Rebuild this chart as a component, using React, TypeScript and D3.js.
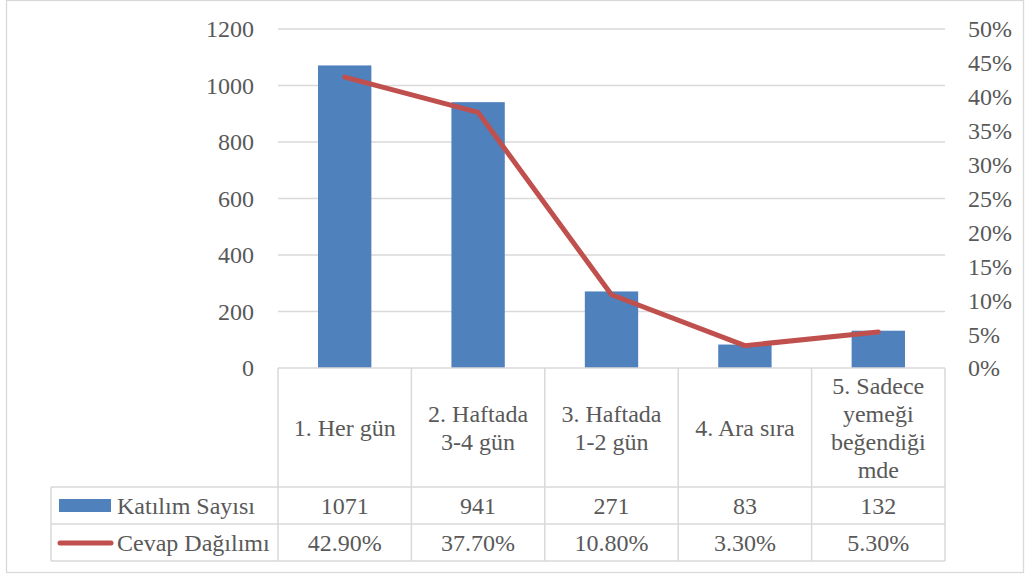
import React from "react";
import * as d3 from "d3";

const categories: string[][] = [
  ["1. Her gün"],
  ["2. Haftada", "3-4 gün"],
  ["3. Haftada", "1-2 gün"],
  ["4. Ara sıra"],
  ["5. Sadece", "yemeği", "beğendiği", "mde"],
];
const counts = [1071, 941, 271, 83, 132];
const percents = [0.429, 0.377, 0.108, 0.033, 0.053];
const countLabels = ["1071", "941", "271", "83", "132"];
const percentLabels = ["42.90%", "37.70%", "10.80%", "3.30%", "5.30%"];
const leftTicks = [0, 200, 400, 600, 800, 1000, 1200];
const rightTicks = [0, 0.05, 0.1, 0.15, 0.2, 0.25, 0.3, 0.35, 0.4, 0.45, 0.5];
const seriesNames = ["Katılım Sayısı", "Cevap Dağılımı"];

const W = 1026, H = 575;
const plotL = 278, plotR = 945, plotT = 29, plotB = 368;
const headerB = 487, row1B = 524, row2B = 561;
const legendL = 51;
const FONT = "'Liberation Serif', serif";
const TXT = "#595959";
const GRID = "#d9d9d9";
const BLUE = "#4F81BD";
const RED = "#C0504D";

export default function App() {
  const idx = categories.map((_, i) => String(i));
  const x = d3.scaleBand<string>().domain(idx).range([plotL, plotR]).paddingInner(0).paddingOuter(0);
  const yL = d3.scaleLinear().domain([0, 1200]).range([plotB, plotT]);
  const yR = d3.scaleLinear().domain([0, 0.5]).range([plotB, plotT]);
  const bw = x.bandwidth();
  const barW = bw * 0.4;
  const cx = (i: number) => (x(String(i)) as number) + bw / 2;
  const line = d3
    .line<number>()
    .x((_, i) => cx(i))
    .y((d) => yR(d));
  const fs = 24;
  const lh = 28;
  const headerMid = (plotB + headerB) / 2;

  return (
    <svg width={W} height={H} style={{ position: "absolute", left: 0, top: 0 }} fontFamily={FONT}>
      <rect x={0} y={0} width={W} height={H} fill="#fff" />
      <rect x={6.5} y={0.5} width={1017} height={572} fill="none" stroke={GRID} strokeWidth={1.3} />
      {/* gridlines */}
      {leftTicks.slice(1).map((t) => (
        <line key={t} x1={plotL} x2={plotR} y1={yL(t)} y2={yL(t)} stroke={GRID} strokeWidth={1.3} />
      ))}
      {/* left ticks */}
      {leftTicks.map((t) => (
        <text key={t} x={254} y={yL(t)} dy="0.35em" textAnchor="end" fontSize={fs} fill={TXT}>
          {t}
        </text>
      ))}
      {/* right ticks */}
      {rightTicks.map((t) => (
        <text key={t} x={968} y={yR(t)} dy="0.35em" textAnchor="start" fontSize={fs} fill={TXT}>
          {Math.round(t * 100) + "%"}
        </text>
      ))}
      {/* bars */}
      {counts.map((c, i) => (
        <rect key={i} x={cx(i) - barW / 2} y={yL(c)} width={barW} height={plotB - yL(c)} fill={BLUE} />
      ))}
      {/* line */}
      <path d={line(percents) || ""} fill="none" stroke={RED} strokeWidth={5} strokeLinecap="round" strokeLinejoin="round" />
      {/* table */}
      <g stroke={GRID} strokeWidth={1.5}>
        <line x1={plotL} x2={plotR} y1={plotB} y2={plotB} />
        <line x1={legendL} x2={plotR} y1={headerB} y2={headerB} />
        <line x1={legendL} x2={plotR} y1={row1B} y2={row1B} />
        <line x1={legendL} x2={plotR} y1={row2B} y2={row2B} />
        <line x1={legendL} x2={legendL} y1={headerB} y2={row2B} />
        {idx.map((k) => (
          <line key={k} x1={x(k)} x2={x(k)} y1={plotB} y2={row2B} />
        ))}
        <line x1={plotR} x2={plotR} y1={plotB} y2={row2B} />
      </g>
      {categories.map((lines, i) => (
        <g key={i}>
          {lines.map((s, j) => (
            <text
              key={j}
              x={cx(i)}
              y={headerMid + (j - (lines.length - 1) / 2) * lh}
              dy="0.35em"
              textAnchor="middle"
              fontSize={fs}
              fill={TXT}
            >
              {s}
            </text>
          ))}
        </g>
      ))}
      {countLabels.map((s, i) => (
        <text key={i} x={cx(i)} y={(headerB + row1B) / 2} dy="0.35em" textAnchor="middle" fontSize={fs} fill={TXT}>
          {s}
        </text>
      ))}
      {percentLabels.map((s, i) => (
        <text key={i} x={cx(i)} y={(row1B + row2B) / 2} dy="0.35em" textAnchor="middle" fontSize={fs} fill={TXT}>
          {s}
        </text>
      ))}
      {/* legend keys */}
      <rect x={59} y={499} width={52} height={13} fill={BLUE} />
      <line x1={60} x2={111} y1={543} y2={543} stroke={RED} strokeWidth={5} strokeLinecap="round" />
      <text x={117} y={(headerB + row1B) / 2} dy="0.35em" fontSize={fs} fill={TXT}>
        {seriesNames[0]}
      </text>
      <text x={117} y={(row1B + row2B) / 2} dy="0.35em" fontSize={fs} fill={TXT}>
        {seriesNames[1]}
      </text>
    </svg>
  );
}
